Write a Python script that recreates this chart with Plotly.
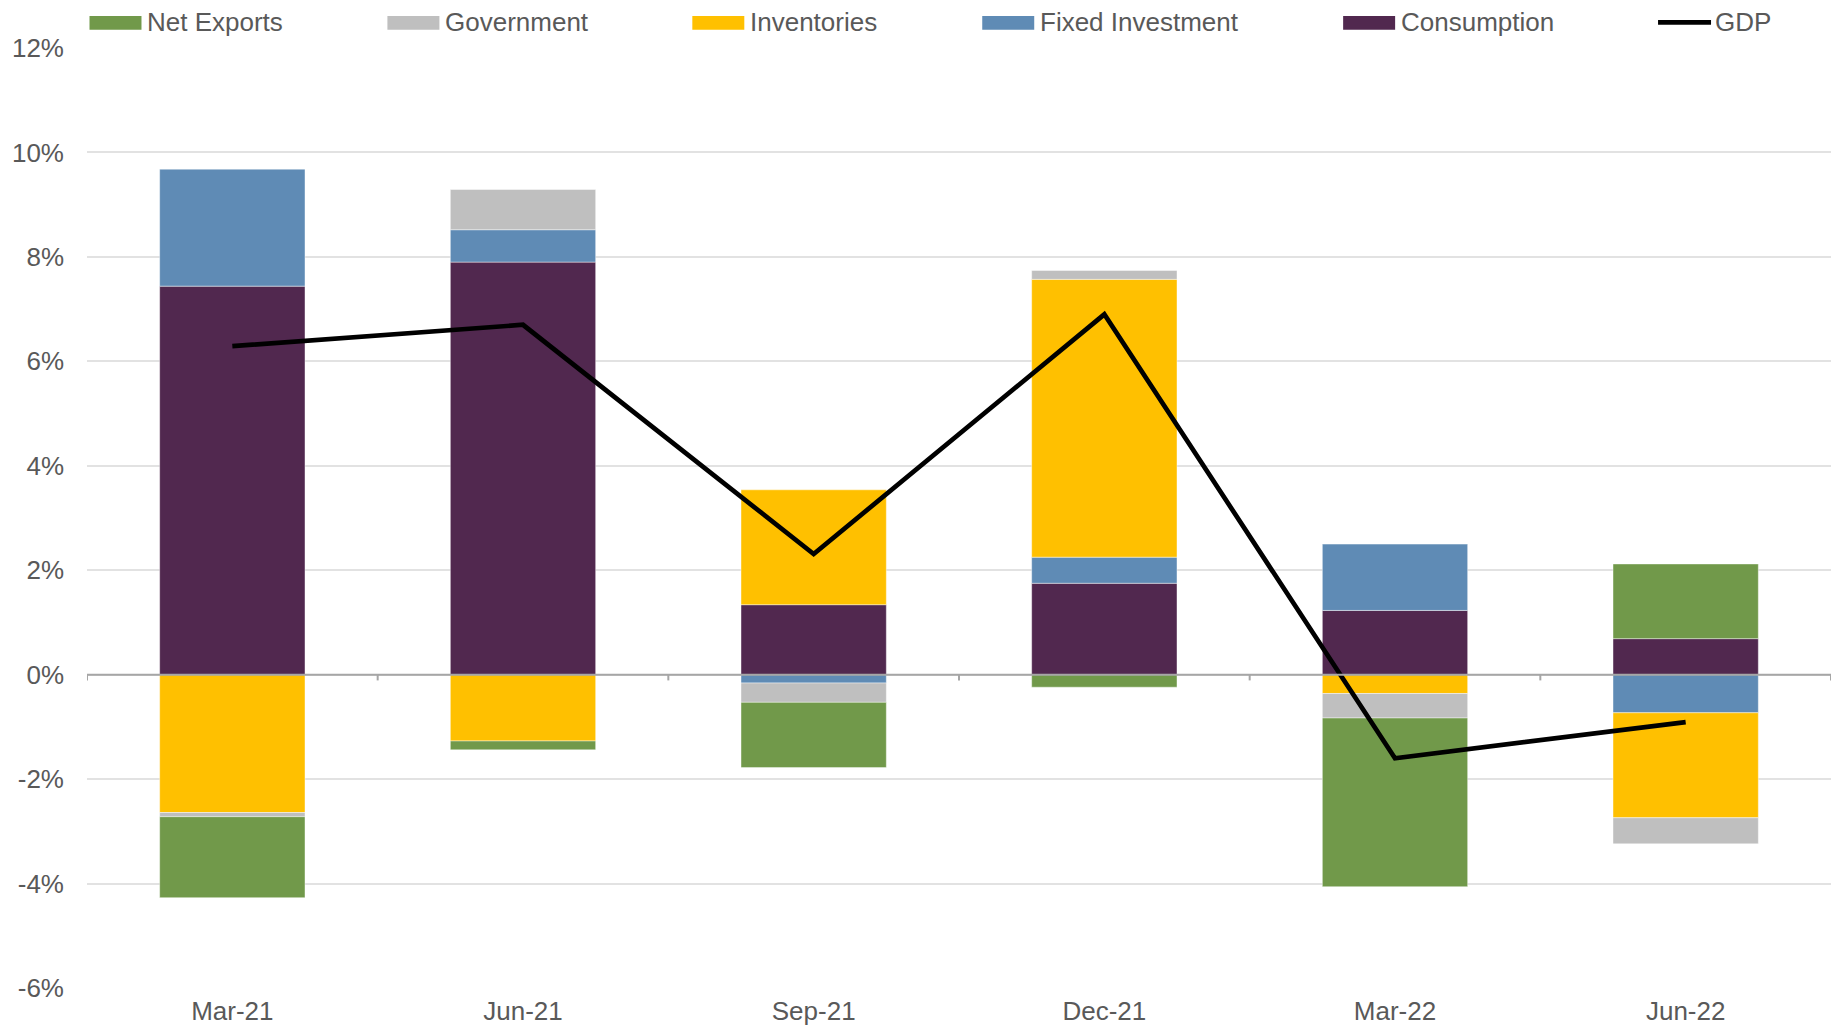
import plotly.graph_objects as go

# Quarterly contributions to real GDP growth (percentage points, annualised)
quarters = ["Mar-21", "Jun-21", "Sep-21", "Dec-21", "Mar-22", "Jun-22"]
consumption = [7.44, 7.90, 1.34, 1.75, 1.23, 0.69]
fixed_investment = [2.24, 0.62, -0.16, 0.50, 1.27, -0.73]
inventories = [-2.64, -1.27, 2.20, 5.32, -0.36, -2.01]
government = [-0.08, 0.77, -0.37, 0.17, -0.47, -0.50]
net_exports = [-1.55, -0.17, -1.25, -0.24, -3.23, 1.43]
gdp = [6.29, 6.70, 2.31, 6.90, -1.60, -0.91]
y_ticks = [-6, -4, -2, 0, 2, 4, 6, 8, 10, 12]
y_tick_labels = [f"{v}%" for v in y_ticks]

colors = {
    "Net Exports": "#71994a",
    "Government": "#bfbfbf",
    "Inventories": "#ffc000",
    "Fixed Investment": "#5f8bb5",
    "Consumption": "#51284f",
    "GDP": "#000000",
}

FONT = "Liberation Sans, Arial, sans-serif"
TEXT = "#595959"
W, H = 1833, 1026
# plot area in pixels
L, R, T, B = 86.5, 1831, 48, 988


def px_x(px):
    return (px - L) / (R - L)


def px_y(py):
    return (B - py) / (B - T)


fig = go.Figure()

# stacking order: first trace sits next to the zero line
bar_series = [
    ("Consumption", consumption),
    ("Fixed Investment", fixed_investment),
    ("Inventories", inventories),
    ("Government", government),
    ("Net Exports", net_exports),
]
for name, vals in bar_series:
    fig.add_trace(go.Bar(
        x=quarters, y=vals, name=name,
        marker=dict(color=colors[name],
                    line=dict(color="rgba(255,255,255,0.55)", width=0.8)),
        showlegend=False,
    ))

fig.add_trace(go.Scatter(
    x=quarters, y=gdp, name="GDP", mode="lines",
    line=dict(color=colors["GDP"], width=4.7),
    showlegend=False,
))

shapes = []
annotations = []

# zero line drawn over the bars
shapes.append(dict(type="line", xref="paper", yref="y", x0=0, x1=1, y0=0, y1=0,
                   line=dict(color="#a6a6a6", width=2), layer="above"))
# category boundary tick marks hanging off the zero line
for i in range(len(quarters) + 1):
    shapes.append(dict(type="line", xref="x", yref="y", x0=i - 0.5, x1=i - 0.5,
                       y0=0, y1=-0.11, line=dict(color="#a6a6a6", width=2),
                       layer="above"))

# legend row
legend_items = [
    ("Net Exports", 89),
    ("Government", 387),
    ("Inventories", 692),
    ("Fixed Investment", 982),
    ("Consumption", 1343),
]
sw_w, sw_top, sw_bot, text_y = 52, 16, 29.7, 21.5
for name, left in legend_items:
    shapes.append(dict(type="rect", xref="paper", yref="paper",
                       x0=px_x(left), x1=px_x(left + sw_w),
                       y0=px_y(sw_bot), y1=px_y(sw_top),
                       fillcolor=colors[name], line=dict(width=0)))
    annotations.append(dict(xref="paper", yref="paper", x=px_x(left + sw_w + 4),
                            y=px_y(text_y), xanchor="left", yanchor="middle",
                            text=name, showarrow=False,
                            font=dict(family=FONT, size=26, color=TEXT)))
gdp_left = 1658
shapes.append(dict(type="line", xref="paper", yref="paper",
                   x0=px_x(gdp_left), x1=px_x(gdp_left + 53),
                   y0=px_y(22.3), y1=px_y(22.3),
                   line=dict(color="#000000", width=4.7)))
annotations.append(dict(xref="paper", yref="paper", x=px_x(gdp_left + 55),
                        y=px_y(text_y), xanchor="left", yanchor="middle",
                        text="GDP", showarrow=False,
                        font=dict(family=FONT, size=26, color=TEXT)))

fig.update_layout(
    width=W, height=H,
    margin=dict(l=L, r=W - R, t=T, b=H - B, pad=0),
    paper_bgcolor="white", plot_bgcolor="white",
    barmode="relative", bargap=0.5,
    font=dict(family=FONT, size=26, color=TEXT),
    shapes=shapes, annotations=annotations,
    showlegend=False,
    xaxis=dict(
        type="category", range=[-0.5, len(quarters) - 0.5],
        showgrid=False, zeroline=False, showline=False,
        ticks="", ticklabelstandoff=5, automargin=False,
        tickfont=dict(family=FONT, size=26, color=TEXT),
    ),
    yaxis=dict(
        range=[-6, 12], tickmode="array", tickvals=y_ticks, ticktext=y_tick_labels,
        showgrid=True, gridcolor="#e2e2e2", gridwidth=1.5,
        zeroline=False, showline=False, ticks="",
        ticklabelstandoff=22, automargin=False,
        tickfont=dict(family=FONT, size=26, color=TEXT),
    ),
)

fig.write_html("out.html")
